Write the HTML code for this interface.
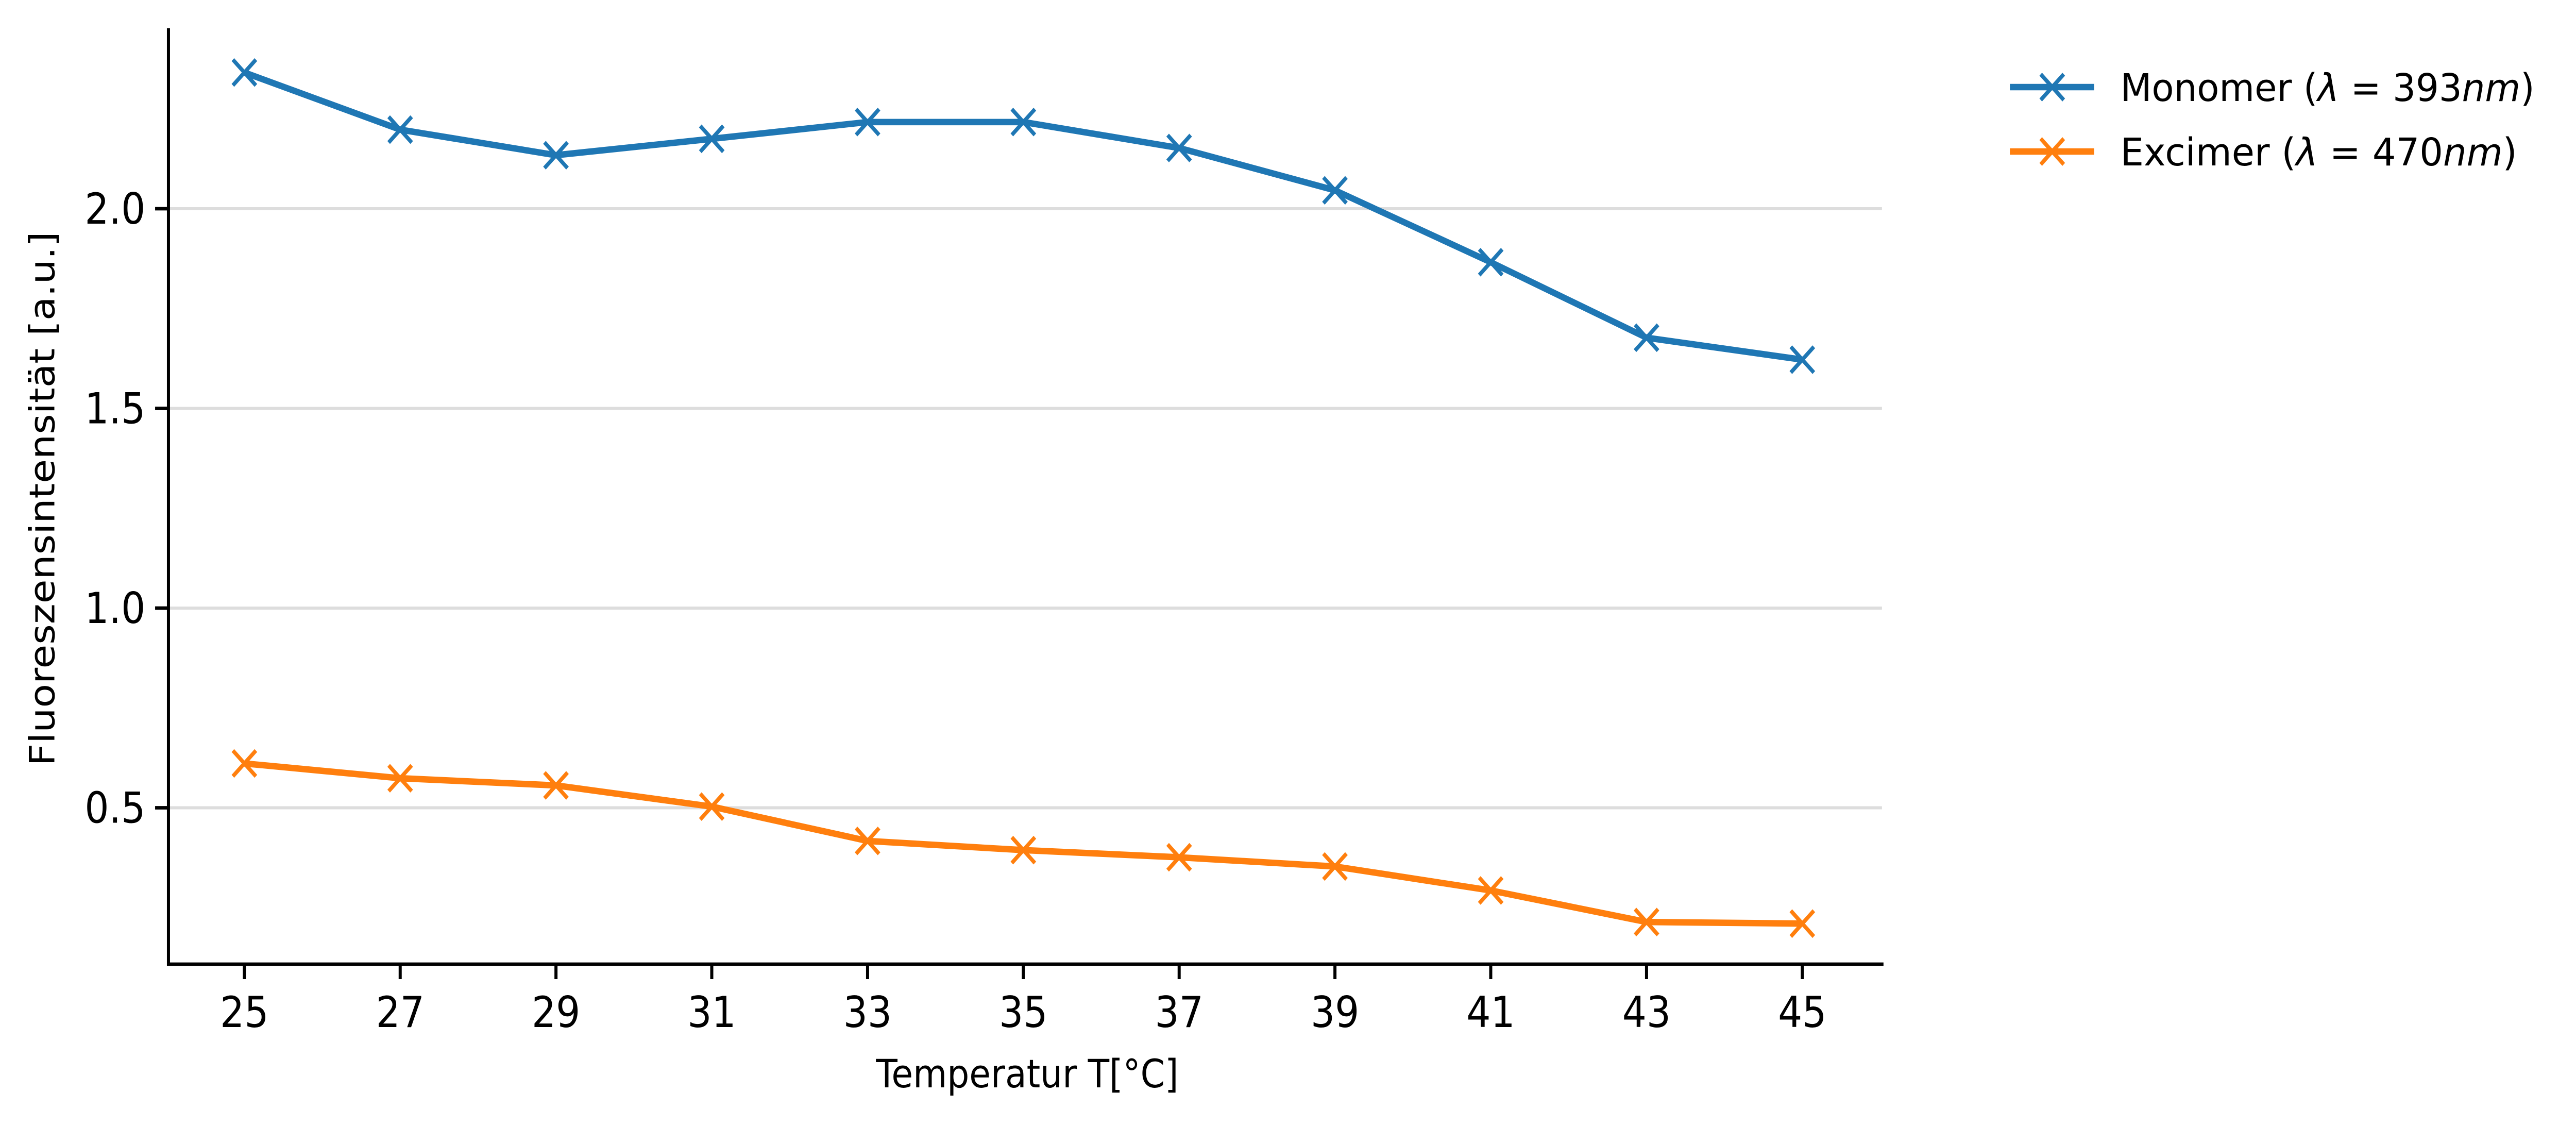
<!DOCTYPE html>
<html><head><meta charset="utf-8"><style>
html,body{margin:0;padding:0;background:#fff;width:100%;height:100%;overflow:hidden;}
svg{display:block;width:100vw;height:100vh;font-family:"DejaVu Sans","Liberation Sans",sans-serif;}
</style></head><body>
<svg id="chart" viewBox="0 0 5597 2185" preserveAspectRatio="none" xmlns="http://www.w3.org/2000/svg">
<g id="grid"></g>
<g id="series"></g>
<g id="axes"></g>
<text x="0" y="0" font-size="76" text-anchor="middle" transform="translate(118,968) rotate(-90)">Fluoreszensintensität [a.u.]</text>
<text x="2232" y="2110" font-size="76" text-anchor="middle">Temperatur T[°C]</text>
<g font-size="74">
 <g>
  <line x1="4367" y1="169" x2="4550" y2="169" stroke="#1f77b4" stroke-width="12.5"/>
  <path d="M4434,144L4484,194M4434,194L4484,144" stroke="#1f77b4" stroke-width="8"/>
  <text x="4607" y="196" textLength="900" lengthAdjust="spacingAndGlyphs">Monomer (<tspan font-style="italic">λ</tspan> = 393<tspan font-style="italic">nm</tspan>)</text>
 </g>
 <g>
  <line x1="4367" y1="294" x2="4550" y2="294" stroke="#ff7f0e" stroke-width="12.5"/>
  <path d="M4434,269L4484,319M4434,319L4484,269" stroke="#ff7f0e" stroke-width="8"/>
  <text x="4607" y="321" textLength="862" lengthAdjust="spacingAndGlyphs">Excimer (<tspan font-style="italic">λ</tspan> = 470<tspan font-style="italic">nm</tspan>)</text>
 </g>
</g>
</svg>
<script>
const temps = [25,27,29,31,33,35,37,39,41,43,45];
const monomer = [2.341,2.198,2.134,2.175,2.217,2.217,2.152,2.046,1.866,1.677,1.622];
const excimer = [0.611,0.574,0.556,0.503,0.417,0.394,0.376,0.353,0.293,0.214,0.210];
const yTicks = [0.5,1.0,1.5,2.0];
const yTickLabels = ["0.5","1.0","1.5","2.0"];

const NS="http://www.w3.org/2000/svg";
const X0=366, X1=4089, Y0=58, Y1=1871;
function xs(t){return 531 + (t-25)*169.25;}
function ys(v){return 1180 - (v-1)*775;}
function mk(tag,attrs,parent){const e=document.createElementNS(NS,tag);for(const k in attrs)e.setAttribute(k,attrs[k]);parent.appendChild(e);return e;}
const grid=document.getElementById('grid'), series=document.getElementById('series'), axes=document.getElementById('axes');
yTicks.forEach((v,i)=>{
  const g=mk('line',{x1:X0,x2:X1,y1:ys(v),y2:ys(v),stroke:'#dddddd','stroke-width':6},grid);
  
  
  const t=mk('line',{x1:X0-29,x2:X0,y1:ys(v),y2:ys(v),stroke:'#000','stroke-width':6.7},axes);
  
  
  const l=mk('text',{x:X0-50,y:ys(v)+29,'font-size':83,'text-anchor':'end'},axes);
  l.textContent=yTickLabels[i];
  
  
});
temps.forEach(t=>{
  const tk=mk('line',{x1:xs(t),x2:xs(t),y1:Y1,y2:Y1+29,stroke:'#000','stroke-width':6.7},axes);
  
  
  const l=mk('text',{x:xs(t),y:Y1+122,'font-size':83,'text-anchor':'middle'},axes);
  l.textContent=String(t);
  
  
});
const sp=mk('path',{d:`M${X0},${Y0}L${X0},${Y1}L${X1},${Y1}`,fill:'none',stroke:'#000','stroke-width':6.7,'stroke-linecap':'square'},axes);


function draw(vals,color,name){
  const p=mk('polyline',{points:vals.map((v,i)=>xs(temps[i])+','+ys(v)).join(' '),fill:'none',stroke:color,'stroke-width':12.5,'stroke-linejoin':'round'},series);
  
  
  vals.forEach((v,i)=>{
    const x=xs(temps[i]),y=ys(v),r=25;
    const m=mk('path',{d:`M${x-r},${y-r}L${x+r},${y+r}M${x-r},${y+r}L${x+r},${y-r}`,stroke:color,'stroke-width':8},series);
    
    
  });
}
draw(monomer,'#1f77b4','monomer');
draw(excimer,'#ff7f0e','excimer');
</script>
</body></html>
